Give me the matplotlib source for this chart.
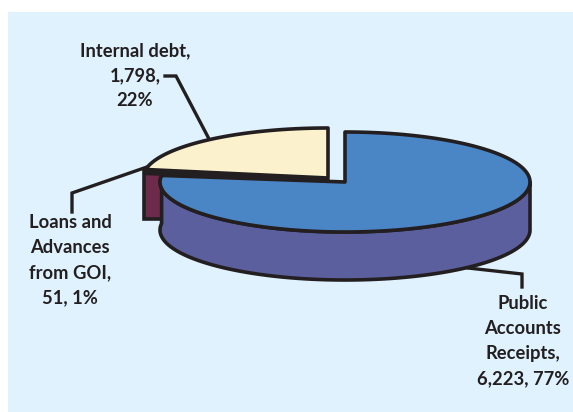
import numpy as np
import matplotlib
matplotlib.use('Agg')
import matplotlib.pyplot as plt
from matplotlib.patches import Polygon, Rectangle

labels = ['Public\nAccounts\nReceipts,\n6,223, 77%', 'Loans and\nAdvances\nfrom GOI,\n51, 1%', 'Internal debt,\n1,798,\n22%']
values = [6223, 51, 1798]
colors = ['#4A86C5', '#6E2A4B', '#FBF2CD']
side_colors = ['#5B5F9E', '#6E2A4B', '#FBF2CD']
edge = '#231F20'

plt.rcParams['font.family'] = ['Lato', 'DejaVu Sans']

W, H = 573, 412
fig = plt.figure(figsize=(W / 100, H / 100), dpi=100, facecolor='white')
ax = fig.add_axes([0, 0, 1, 1])
ax.set_xlim(0, W)
ax.set_ylim(H, 0)
ax.axis('off')
ax.add_patch(Rectangle((8, 12), W - 8, H - 12, fc='#DFF2FD', ec='none', zorder=0))

# pie projection: slices run clockwise from 12 o'clock
fracs = np.array(values) / sum(values)
ends = 90 - np.cumsum(fracs) * 360
starts = np.r_[90, ends[:-1]]
centres = [(345, 182), (328, 180), (328, 178)]
rx, ry, depth = 185, 50, 48


def rim(c, a0, a1, n=160):
    t = np.radians(np.linspace(a0, a1, n))
    return np.c_[c[0] + rx * np.cos(t), c[1] - ry * np.sin(t)]


def top_face(i, z):
    pts = np.vstack([[centres[i]], rim(centres[i], starts[i], ends[i])])
    ax.add_patch(Polygon(pts, closed=True, fc=colors[i], ec=edge, lw=2.6, joinstyle='round', zorder=z))


# loans slice: only its far-left wall shows past the big slice
tip = rim(centres[1], ends[1], ends[1], 1)[0]
ax.add_patch(Rectangle((tip[0] - 2, tip[1]), 24, depth, fc=side_colors[1], ec=edge, lw=2.6, zorder=3))
top_face(1, 4)
top_face(2, 5)

# big slice goes last, wall first so the top face covers its upper edge
wall = rim(centres[0], ends[0] + 360, 360)
ax.add_patch(Polygon(np.vstack([wall, (wall + [0, depth])[::-1]]), closed=True,
                     fc=side_colors[0], ec=edge, lw=2.6, joinstyle='round', zorder=6))
top_face(0, 7)

# leader lines
ax.plot([165, 176, 208], [76, 76, 137], color=edge, lw=2.4, solid_joinstyle='miter', zorder=8)
ax.plot([72, 72, 147], [212, 193, 167], color=edge, lw=2.4, solid_joinstyle='miter', zorder=8)
ax.plot([468, 522, 522], [268, 274, 287], color=edge, lw=2.4, solid_joinstyle='miter', zorder=8)

# data labels
txt = dict(ha='center', va='center', fontsize=13.2, fontweight='bold', color=edge, linespacing=1.56, zorder=9)
ax.text(523, 341, labels[0], **txt)
ax.text(70, 260, labels[1], **txt)
ax.text(135, 76, labels[2], **txt)

fig.savefig('out.png', dpi=100)
